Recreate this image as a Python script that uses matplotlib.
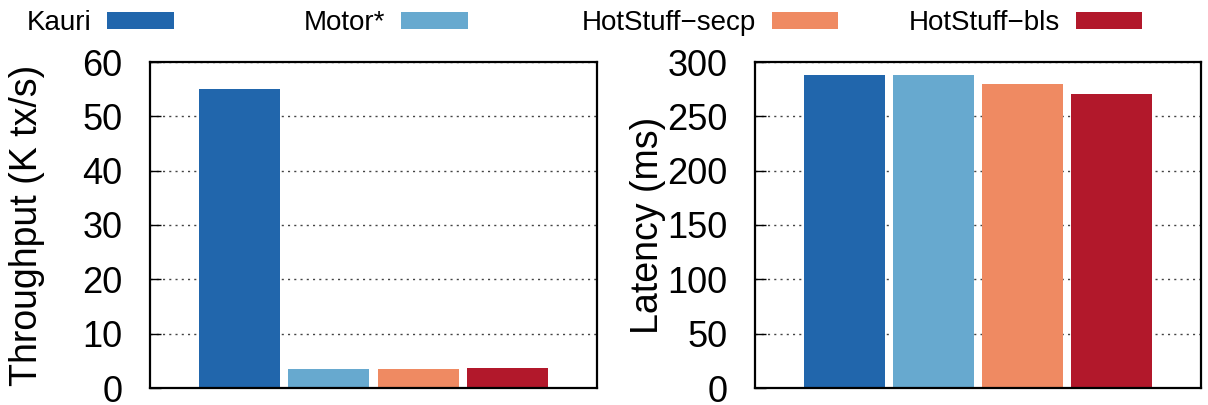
import matplotlib
matplotlib.use('Agg')
import matplotlib.pyplot as plt
from matplotlib.patches import Patch

plt.rcParams['font.family'] = ['Liberation Sans', 'DejaVu Sans']

systems = ['Kauri', 'Motor*', 'HotStuff\u2212secp', 'HotStuff\u2212bls']
colors = ['#2166ac', '#67a9cf', '#ef8a62', '#b2182b']
throughput = [55.0, 3.5, 3.5, 3.7]
latency = [288, 288, 280, 271]

W, H = 1208, 405
fig = plt.figure(figsize=(W / 100, H / 100), dpi=100)

# axes boxes in pixels
ax1 = fig.add_axes([150 / W, (H - 388) / H, 447 / W, 326 / H])
ax2 = fig.add_axes([755 / W, (H - 388) / H, 446 / W, 326 / H])

def draw(ax, vals, ylim, step, label, labx):
    x = range(len(vals))
    ax.bar(x, vals, width=0.91, color=colors, zorder=3)
    ax.set_xlim(-1, 4)
    ax.set_ylim(0, ylim)
    ax.set_yticks(range(0, ylim + 1, step))
    ax.set_xticks([])
    ax.tick_params(axis='y', direction='in', length=8, width=1, labelsize=26, pad=20)
    ax.grid(axis='y', linestyle=(0, (1.5, 3)), color='#444444', linewidth=1, zorder=1)
    for s in ax.spines.values():
        s.set_linewidth(1.6)
        s.set_zorder(4)
    ax.set_ylabel(label, fontsize=27)
    ax.yaxis.set_label_coords(labx, 0.5)

draw(ax1, throughput, 60, 10, 'Throughput (K tx/s)', -0.235)
draw(ax2, latency, 300, 50, 'Latency (ms)', -0.2)

handles = [Patch(facecolor=c, edgecolor='none') for c in colors]

# legend: text left of the colour box, split in two groups like the original
fig.legend(handles[:2], systems[:2], loc='center left', bbox_to_anchor=(27 / W, 1 - 23 / H),
           ncol=2, markerfirst=False, frameon=False, fontsize=20, borderpad=0,
           borderaxespad=0, handlelength=2.4, handleheight=0.55, handletextpad=0.55,
           columnspacing=4.7)
fig.legend(handles[2:], systems[2:], loc='center left', bbox_to_anchor=(582 / W, 1 - 23 / H),
           ncol=2, markerfirst=False, frameon=False, fontsize=20, borderpad=0,
           borderaxespad=0, handlelength=2.4, handleheight=0.55, handletextpad=0.55,
           columnspacing=2.55)

fig.savefig('out.png', dpi=100)
